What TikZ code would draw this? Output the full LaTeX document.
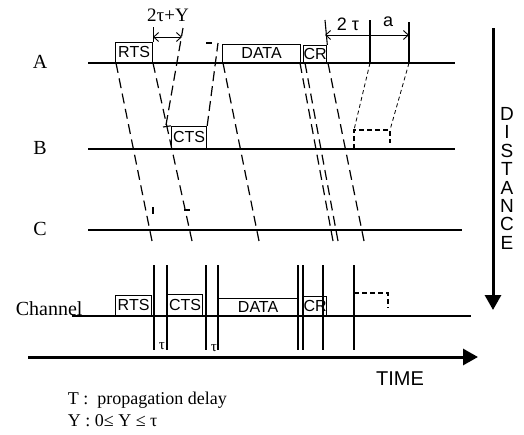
\documentclass[tikz,border=0pt]{standalone}
\usepackage{fontspec}
\setmainfont{Liberation Serif}
\setsansfont{Liberation Sans}
\usetikzlibrary{arrows.meta}

\begin{document}
\begin{tikzpicture}[x=1pt, y=-1pt, line width=1.1pt,
  pkt/.style={draw, line width=1.2pt, inner sep=0pt, anchor=south west,
    font=\sffamily\fontsize{16}{16}\selectfont},
  prop/.style={line width=1.2pt, dash pattern=on 10pt off 5pt},
  fine/.style={line width=0.8pt, dash pattern=on 4pt off 3pt},
  lab/.style={font=\fontsize{20}{20}\selectfont},
  axis/.style={line width=3pt, -{Triangle[length=15pt, width=16pt]}},
  span/.style={line width=0.9pt, {Straight Barb[length=5pt, width=9pt]}-{Straight Barb[length=5pt, width=9pt]}}]
  \useasboundingbox (0,0) rectangle (524,434);

  % stations and time lines
  \foreach \y/\name/\xe in {63/A/455, 149/B/455, 230/C/462} {
    \node[lab] (lab\name) at (40,\y-1) {\name};
    \draw (88,\y) -- (\xe,\y);
  }
  \node[lab, anchor=base west] (labCh) at (12,315) {Channel};
  \draw (72,316) -- (471,316);

  % packets on A and B
  \node[pkt, minimum width=37pt, minimum height=20pt] (rtsA) at (115,63) {RTS};
  \node[pkt, minimum width=78pt, minimum height=18pt] (dataA) at (222,63) {DATA};
  \node[pkt, minimum width=22pt, minimum height=17pt] (crA) at (303,63) {CR};
  \node[pkt, minimum width=35pt, minimum height=22pt] (ctsB) at (171,149) {CTS};

  % 2tau+Y
  \coordinate (ctsUp) at (183,28);
  \draw (rtsA.north east) -- ++(0,-15);
  \draw[span] (153,37) -- (182,37);
  \node[lab, font=\fontsize{19}{19}\selectfont] (gapY) at (168,15) {2τ+Y};
  \draw[prop] (166,125) -- (ctsUp);
  \draw (163,127) -- (ctsB.north west);
  \coordinate (ctsTop) at (218,43);
  \draw[prop] (ctsB.north east) -- (ctsTop);
  \draw (206,43) -- (212,43);

  % 2tau and a
  \coordinate (tk1) at (325,20);
  \coordinate (tk2) at (370,20);
  \coordinate (tk3) at (409,22);
  \draw (crA.north east) -- (tk1);
  \draw (370,63) -- (tk2);
  \draw (409,63) -- (tk3);
  \draw[span] (325,35) -- (409,35);
  \node[font=\sffamily\fontsize{18}{18}\selectfont] (twoTau) at (348,24) {2 τ};
  \node[font=\sffamily\fontsize{18}{18}\selectfont] (aLen) at (388,22) {a};

  % propagation towards B and C
  \foreach \xs/\xe/\name in {116/152/c1, 153/192/c2, 223/259/c3, 300/333/c4, 305/338/c5, 328/364/c6} {
    \coordinate (\name) at (\xe,241);
    \pgfmathsetmacro\len{veclen(\xe-\xs,178)}
    \pgfmathsetmacro\nd{floor((\len-10)/15)}
    \pgfmathsetmacro\gap{(\len-10*(\nd+1))/\nd}
    \draw[prop, dash pattern=on 10pt off \gap pt] (\xs,63) -- (\name);
  }
  \draw (153,207) -- (153,214);
  \draw (184,210) -- (190,210);

  % retry on B
  \draw[line width=1.5pt, dash pattern=on 5pt off 3pt] (354,149) -- (354,130) -- (390,130) -- (390,143);
  \draw[fine] (370,63) -- (354,130);
  \draw[fine] (409,63) -- (390,130);

  % channel
  \node[pkt, minimum width=36pt, minimum height=20pt] (rtsCh) at (115,316) {RTS};
  \node[pkt, minimum width=35pt, minimum height=21pt] (ctsCh) at (167,316) {CTS};
  \node[pkt, minimum width=79pt, minimum height=17pt] (dataCh) at (218,316) {DATA};
  \node[pkt, minimum width=20pt, minimum height=19pt] (crCh) at (303,316) {CR};
  \foreach \x in {154,167,206,218,298,303,323,354} {
    \draw (\x,265) -- (\x,350);
  }
  \node[font=\fontsize{15}{15}\selectfont] (tauA) at (162,346) {τ};
  \node[font=\fontsize{15}{15}\selectfont] (tauB) at (214,348) {τ};
  \draw[line width=1.5pt, dash pattern=on 5pt off 3pt] (354,293) -- (388,293) -- (388,308);

  % axes
  \draw[axis] (28,357) -- (478,357);
  \node[font=\sffamily\fontsize{20}{20}\selectfont] (time) at (400,379) {TIME};
  \draw[axis] (493,28) -- (493,310);
  \foreach \c [count=\i] in {D,I,S,T,A,N,C,E} {
    \node[font=\sffamily\fontsize{19}{19}\selectfont] (dist\i) at (507,{114+18.4*(\i-1)}) {\c};
  }

  % legend
  \node[lab, font=\fontsize{18}{18}\selectfont, anchor=base west] (legTau) at (64,404) {T :\ \ propagation delay};
  \node[lab, font=\fontsize{18}{18}\selectfont, anchor=base west] (legY) at (64,426) {Y : 0≤ Y ≤ τ};
\end{tikzpicture}
\end{document}
